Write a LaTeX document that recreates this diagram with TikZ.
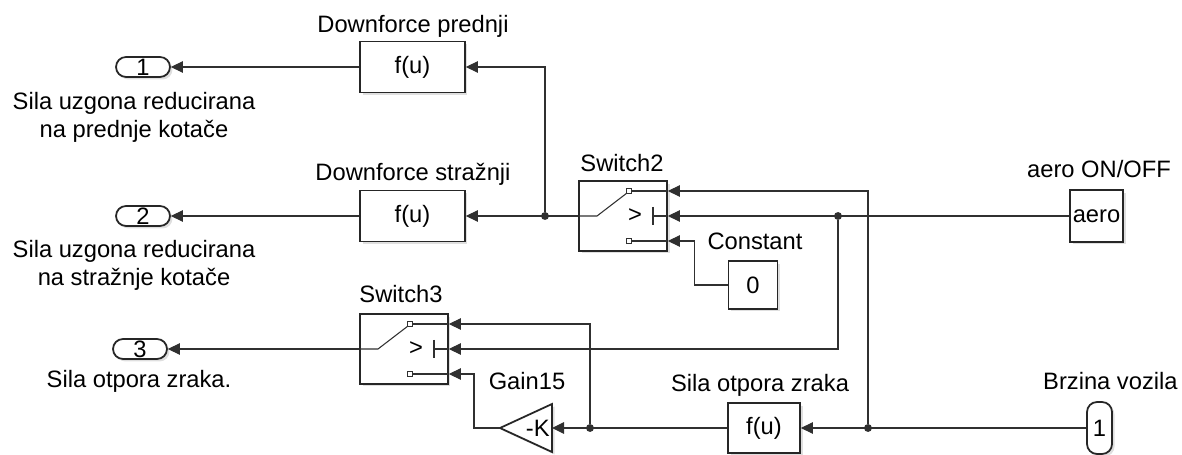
\documentclass[tikz,border=0pt]{standalone}
\usepackage{fontspec}
\setmainfont{Liberation Sans}
\usetikzlibrary{arrows.meta, calc, shadows}
\definecolor{wire}{HTML}{303030}
\definecolor{edge}{HTML}{262626}

\begin{document}
\begin{tikzpicture}[x=0.02cm, y=-0.02cm,
        >={Triangle[length=2.4mm, width=2.3mm]},
        block/.style={draw=edge, line width=1pt, fill=white,
            drop shadow={opacity=0.25, shadow xshift=0.5mm, shadow yshift=-0.5mm}},
        port/.style={block, rounded corners=0.2cm},
        wire/.style={draw=wire, line width=0.6pt},
        dot/.style={circle, fill=wire, minimum size=4.5pt}]
    \tikzstyle{every node}=[font=\fontsize{13.5}{16}\selectfont, inner sep=0pt, text=black]
    \useasboundingbox (0,0) rectangle (1182,455);

    % blocks
    \node[port, minimum width=1.08cm, minimum height=0.4cm] (out1) at (143,67) {1};
    \node[port, minimum width=1.08cm, minimum height=0.4cm] (out2) at (143,216) {2};
    \node[port, minimum width=1.08cm, minimum height=0.4cm] (out3) at (140,349) {3};
    \node[block, minimum width=2.1cm, minimum height=1.02cm] (fu1) at (412.5,67) {f(u)};
    \node[block, minimum width=2.1cm, minimum height=1.02cm] (fu2) at (412.5,216) {f(u)};
    \node[block, minimum width=1.76cm, minimum height=1.4cm, label={[xshift=0.24cm]center:>}] (sw2) at (623,216) {};
    \node[block, minimum width=1.76cm, minimum height=1.4cm, label={[xshift=0.24cm]center:>}] (sw3) at (404,349) {};
    \node[block, minimum width=0.98cm, minimum height=0.96cm] (const) at (753,285) {0};
    \node[block, minimum width=1.06cm, minimum height=1.04cm] (aero) at (1096.5,216) {aero};
    \node[block, minimum width=1.44cm, minimum height=1.0cm] (fu3) at (764,428) {f(u)};
    \node[port, minimum width=0.5cm, minimum height=1.04cm] (inp) at (1099.5,428) {1};

    % gain
    \coordinate (gainin) at (552,428);
    \coordinate (gainout) at (500,428);
    \draw[block] (552,404) -- (gainout) -- (552,452) -- cycle;
    \node[anchor=east] (gaink) at (550,428) {-K};

    % labels
    \node[anchor=north, align=center] (out1lbl) at (134,92) {Sila uzgona reducirana\\na prednje kotače};
    \node[anchor=north, align=center] (out2lbl) at (134,240) {Sila uzgona reducirana\\na stražnje kotače};
    \node[anchor=base] (out3lbl) at (139,388) {Sila otpora zraka.};
    \node[anchor=base] (fu1lbl) at (413,33) {Downforce prednji};
    \node[anchor=base] (fu2lbl) at (413,181) {Downforce stražnji};
    \node[anchor=base] (sw2lbl) at (622,172) {Switch2};
    \node[anchor=base] (sw3lbl) at (401,303) {Switch3};
    \node[anchor=base] (constlbl) at (755,250) {Constant};
    \node[anchor=base] (aerolbl) at (1099,178) {aero ON/OFF};
    \node[anchor=base] (gainlbl) at (527,390) {Gain15};
    \node[anchor=base] (fu3lbl) at (760,392) {Sila otpora zraka};
    \node[anchor=base east] (inplbl) at (1178,390) {Brzina vozila};

    % switch symbols
    \foreach \sw in {sw2, sw3} {
        \begin{scope}[shift={(\sw.center)}, wire]
            \draw (3.5,-27.5) rectangle (8.5,-22.5);
            \draw (3.5,22.5) rectangle (8.5,27.5);
            \draw (8.5,-25) -- (44,-25);
            \draw (8.5,25) -- (44,25);
            \draw (-44,0) -- (-26,0) -- (4,-23);
            \draw (30,-9) -- (30,9);
            \draw (30,0) -- (44,0);
        \end{scope}
        \coordinate (\sw in1) at ($(\sw.east)+(0,-25)$);
        \coordinate (\sw in2) at (\sw.east);
        \coordinate (\sw in3) at ($(\sw.east)+(0,25)$);
    }

    % junctions
    \node[dot] (j1) at (545,216) {};
    \node[dot] (j2) at (838,216) {};
    \node[dot] (j3) at (868,428) {};
    \node[dot] (j4) at (590,428) {};

    % connections
    \draw[wire, ->] (fu1.west) -- (out1.east);
    \draw[wire, ->] (fu2.west) -- (out2.east);
    \draw[wire, ->] (sw3.west) -- (out3.east);
    \draw[wire, ->] (sw2.west) -- (fu2.east);
    \draw[wire, ->] (j1) |- (fu1.east);
    \draw[wire, ->] (aero.west) -- (sw2in2);
    \draw[wire, ->] (j2) |- (sw3in2);
    \draw[wire, ->] (inp.west) -- (fu3.east);
    \draw[wire, ->] (j3) |- (sw2in1);
    \draw[wire, ->] (const.west) -- ++(-33,0) |- (sw2in3);
    \draw[wire, ->] (fu3.west) -- (gainin);
    \draw[wire, ->] (j4) |- (sw3in1);
    \draw[wire, ->] (gainout) -- ++(-26,0) |- (sw3in3);
\end{tikzpicture}
\end{document}
